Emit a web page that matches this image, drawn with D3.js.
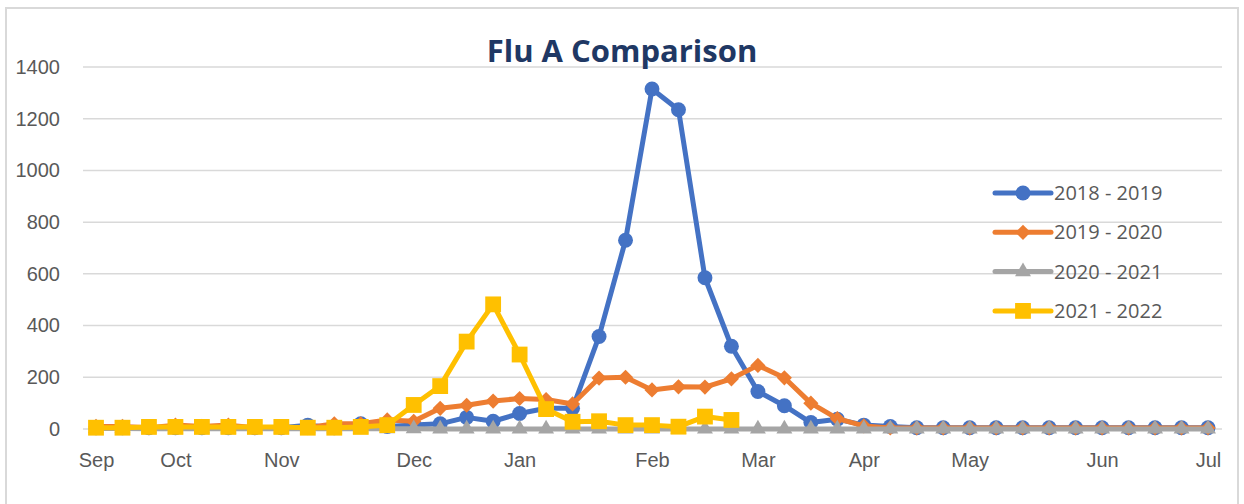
<!DOCTYPE html>
<html>
<head>
<meta charset="utf-8">
<script src="https://cdn.jsdelivr.net/npm/d3@7"></script>
<style>
  body { margin: 0; background: #fff; }
  svg { display: block; font-family: "Open Sans", "Liberation Sans", sans-serif; }
</style>
</head>
<body>
<div id="chart"></div>
<script>
// weekly categories, Sep -> Jul (43 weeks); only some carry a month label
var weeks = d3.range(43);
var monthLabels = [[0, "Sep"], [3, "Oct"], [7, "Nov"], [12, "Dec"], [16, "Jan"], [21, "Feb"],
                   [25, "Mar"], [29, "Apr"], [33, "May"], [38, "Jun"], [42, "Jul"]];
var yTicks = [0, 200, 400, 600, 800, 1000, 1200, 1400];

var s2018 = [5, 5, 5, 5, 5, 5, 5, 5, 15, 5, 20, 10, 15, 20, 45, 30, 60, 80, 80, 358, 730, 1315, 1235, 585, 320, 145, 90, 25, 38, 15, 10,
             5, 5, 5, 5, 5, 5, 5, 5, 5, 5, 5, 5];
var s2019 = [10, 10, 5, 15, 10, 15, 5, 5, 5, 20, 20, 35, 30, 80, 92, 108, 118, 114, 97, 197, 200, 151, 163, 162, 194, 246, 198, 100, 40, 12,
             4, 4, 4, 4, 4, 4, 4, 4, 4, 4, 4, 4, 4];
var s2020 = [2, 2, 1, 1, 1, 1, 1, 1, 1, 1, 1, 1, 1, 0, 0, 0, 0, 0, 0, 0, 0, 0, 0, 0, 0, 0, 0, 0, 0, 0,
             0, 0, 0, 0, 0, 0, 0, 0, 0, 0, 0, 0, 0];
var s2021 = [5, 5, 8, 8, 8, 8, 8, 8, 5, 5, 8, 15, 93, 166, 338, 482, 288, 77, 28, 30, 15, 15, 9, 48, 35];

var seriesNames = ["2018 - 2019", "2019 - 2020", "2020 - 2021", "2021 - 2022"];
var seriesColors = ["#4472C4", "#ED7D31", "#A5A5A5", "#FFC000"];
var seriesShapes = [d3.symbolCircle, d3.symbolSquare, d3.symbolTriangle, d3.symbolSquare];
var seriesSizes = [175, 115, 110, 250];
var seriesRotate = [0, 45, 0, 0];
var seriesValues = [s2018, s2019, s2020, s2021];

var width = 1244, height = 504;
var margin = { top: 67, right: 22, bottom: 75, left: 83 };

var svg = d3.select("#chart").append("svg")
    .attr("width", width)
    .attr("height", height);

// chart frame
svg.append("path")
    .attr("d", "M6,504 L6,8 L1238,8 L1238,504")
    .attr("fill", "none")
    .attr("stroke", "#d9d9d9")
    .attr("stroke-width", 2);

var x = d3.scalePoint()
    .domain(weeks)
    .range([96, 1208]);

var y = d3.scaleLinear()
    .domain([0, 1400])
    .range([height - margin.bottom, margin.top]);

// gridlines
svg.append("g")
    .selectAll("line")
    .data(yTicks)
    .enter().append("line")
    .attr("x1", margin.left)
    .attr("x2", width - margin.right)
    .attr("y1", function(d) { return y(d); })
    .attr("y2", function(d) { return y(d); })
    .attr("stroke", "#d9d9d9")
    .attr("stroke-width", 1.5);

// y axis labels
var yAxis = svg.append("g")
    .attr("transform", "translate(" + (margin.left - 8) + ",0)")
    .call(d3.axisLeft(y).tickValues(yTicks).tickFormat(d3.format("d")).tickSize(0).tickPadding(15));
yAxis.select(".domain").remove();
yAxis.selectAll("text")
    .attr("fill", "#595959")
    .style("font-size", "20px");

// x axis labels
var xAxis = svg.append("g")
    .attr("transform", "translate(0," + y(0) + ")")
    .call(d3.axisBottom(x)
        .tickValues(monthLabels.map(function(d) { return d[0]; }))
        .tickFormat(function(d) { return monthLabels.find(function(m) { return m[0] === d; })[1]; })
        .tickSize(0).tickPadding(24));
xAxis.select(".domain").remove();
xAxis.selectAll("text")
    .attr("fill", "#595959")
    .style("font-size", "20px");

// title
svg.append("text")
    .attr("x", 622)
    .attr("y", 62)
    .attr("text-anchor", "middle")
    .attr("fill", "#1F3864")
    .style("font-size", "31px")
    .style("font-weight", "bold")
    .text("Flu A Comparison");

var line = d3.line()
    .x(function(d, i) { return x(i); })
    .y(function(d) { return y(d); });

seriesValues.forEach(function(vals, k) {
    var g = svg.append("g");
    g.append("path")
        .datum(vals)
        .attr("d", line)
        .attr("fill", "none")
        .attr("stroke", seriesColors[k])
        .attr("stroke-width", 5)
        .attr("stroke-linejoin", "round");
    g.selectAll("path.marker")
        .data(vals)
        .enter().append("path")
        .attr("class", "marker")
        .attr("transform", function(d, i) {
            return "translate(" + x(i) + "," + y(d) + ") rotate(" + seriesRotate[k] + ")";
        })
        .attr("d", d3.symbol().type(seriesShapes[k]).size(seriesSizes[k]))
        .attr("fill", seriesColors[k]);
});

// legend
var legend = svg.append("g")
    .selectAll("g")
    .data(seriesNames)
    .enter().append("g")
    .attr("transform", function(d, i) { return "translate(995," + (193 + i * 39.3) + ")"; });

legend.append("line")
    .attr("x1", 0).attr("x2", 56)
    .attr("stroke", function(d, i) { return seriesColors[i]; })
    .attr("stroke-width", 5)
    .attr("stroke-linecap", "round");

legend.append("path")
    .attr("transform", function(d, i) { return "translate(28,0) rotate(" + seriesRotate[i] + ")"; })
    .attr("d", function(d, i) { return d3.symbol().type(seriesShapes[i]).size(seriesSizes[i])(); })
    .attr("fill", function(d, i) { return seriesColors[i]; });

legend.append("text")
    .attr("x", 59)
    .attr("dy", "0.35em")
    .attr("fill", "#595959")
    .style("font-size", "20px")
    .text(function(d) { return d; });
</script>
</body>
</html>
